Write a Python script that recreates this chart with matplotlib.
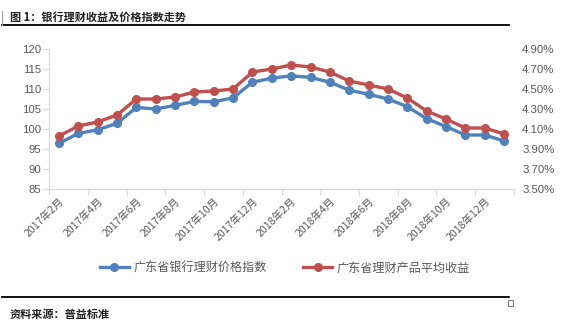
import matplotlib
matplotlib.use("Agg")
import matplotlib.pyplot as plt
from matplotlib.lines import Line2D
from matplotlib.patches import Rectangle
from matplotlib.ticker import FuncFormatter, FixedLocator

plt.rcParams['font.family'] = ['Noto Sans CJK SC', 'DejaVu Sans']

# 月份：2017年2月 ~ 2019年1月
months = ['2017年2月', '2017年3月', '2017年4月', '2017年5月', '2017年6月', '2017年7月',
          '2017年8月', '2017年9月', '2017年10月', '2017年11月', '2017年12月', '2018年1月',
          '2018年2月', '2018年3月', '2018年4月', '2018年5月', '2018年6月', '2018年7月',
          '2018年8月', '2018年9月', '2018年10月', '2018年11月', '2018年12月', '2019年1月']

# 价格指数（左轴）
price_index = [96.4, 98.9, 99.8, 101.4, 105.4, 105.0, 105.9, 106.9, 106.8, 107.8, 111.7, 112.7,
               113.3, 112.9, 111.7, 109.7, 108.7, 107.5, 105.6, 102.6, 100.6, 98.5, 98.5, 97.0]

# 平均收益率 %（右轴）
avg_yield = [4.03, 4.13, 4.17, 4.24, 4.40, 4.40, 4.42, 4.47, 4.48, 4.50, 4.67, 4.70,
             4.74, 4.72, 4.67, 4.58, 4.54, 4.50, 4.41, 4.28, 4.20, 4.11, 4.11, 4.05]

blue = '#4F81BD'
red = '#C0504D'
grey = '#595959'
axis_grey = '#D9D9D9'

fig = plt.figure(figsize=(5.85, 3.28), dpi=100)
ax = fig.add_axes([0.0843, 0.4238, 0.7938, 0.4268])
ax2 = ax.twinx()

x = list(range(len(months)))
ax.plot(x, price_index, color=blue, lw=2.4, marker='o', ms=5.5, zorder=3)
ax2.plot(x, avg_yield, color=red, lw=2.4, marker='o', ms=5.5, zorder=3)

ax.set_xlim(-0.5, len(months) - 0.5)
ax.set_ylim(85, 120)
ax.set_yticks(range(85, 121, 5))
ax2.set_ylim(3.5, 4.9)
ax2.set_yticks([3.5, 3.7, 3.9, 4.1, 4.3, 4.5, 4.7, 4.9])
ax2.yaxis.set_major_formatter(FuncFormatter(lambda v, p: f'{v:.2f}%'))

# 横轴：每隔一个月标注，刻度线落在分类边界
ax.set_xticks(x[::2])
ax.set_xticklabels(months[::2], rotation=45, ha='right', va='top',
                   rotation_mode='anchor', fontsize=7.6, color=grey)
ax.xaxis.set_minor_locator(FixedLocator([i - 0.5 for i in range(0, len(months) + 1, 2)]))
ax.tick_params(axis='x', which='major', length=0, pad=5)
ax.tick_params(axis='x', which='minor', length=4, color=axis_grey, width=0.8)
ax.tick_params(axis='y', length=4, color=axis_grey, width=0.8, pad=2)
ax2.tick_params(axis='y', length=0, pad=6)

for lab in ax.get_yticklabels() + ax2.get_yticklabels():
    lab.set_family(['Liberation Sans', 'DejaVu Sans'])
    lab.set_fontsize(8.2)
    lab.set_color(grey)

for a in (ax, ax2):
    for s in ('top', 'right', 'left', 'bottom'):
        a.spines[s].set_visible(False)
ax.spines['left'].set_visible(True)
ax.spines['bottom'].set_visible(True)
ax.spines['left'].set_color(axis_grey)
ax.spines['bottom'].set_color(axis_grey)
ax.patch.set_visible(False)

handles = [Line2D([], [], color=blue, lw=2.4, marker='o', ms=5.5),
           Line2D([], [], color=red, lw=2.4, marker='o', ms=5.5)]
fig.legend(handles, ['广东省银行理财价格指数', '广东省理财产品平均收益'],
           loc='center', bbox_to_anchor=(0.487, 0.183), ncol=2, frameon=False,
           handlelength=2.4, columnspacing=3.0, handletextpad=0.4,
           prop={'size': 8.7}, labelcolor=grey)

# 标题与来源
fig.text(0.017, 0.948, '图 1：银行理财收益及价格指数走势', fontsize=8, fontweight='bold',
         color='#222222', va='center')
fig.text(0.017, 0.042, '资料来源：普益标准', fontsize=8, fontweight='bold',
         color='#222222', va='center')
fig.add_artist(Line2D([0.004, 0.870], [0.924, 0.924], color='black', lw=1.3))
fig.add_artist(Line2D([0.004, 0.004], [0.924, 0.965], color='#A0A0A0', lw=0.8))
fig.add_artist(Line2D([0.004, 0.870], [0.0945, 0.0945], color='black', lw=1.3))
fig.add_artist(Rectangle((0.869, 0.068), 0.008, 0.016, fill=False, ec='#808080', lw=0.8))

fig.savefig('out.png', dpi=100)
